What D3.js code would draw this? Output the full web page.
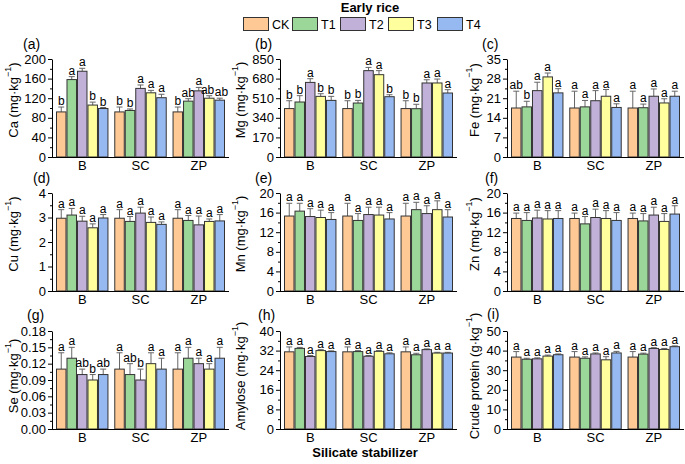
<!DOCTYPE html>
<html>
<head>
<meta charset="utf-8">
<script src="https://cdn.jsdelivr.net/npm/d3@7"></script>
<style>
  html, body { margin: 0; padding: 0; background: #fff; }
  svg { display: block; font-family: "Liberation Sans", Arial, sans-serif; }
</style>
</head>
<body>
<svg id="chart" width="685" height="464"></svg>
<script>
// ---------- data ----------
const groups = ["B", "SC", "ZP"];
const treatments = ["CK", "T1", "T2", "T3", "T4"];
const colors = ["#FFC995", "#9CD79A", "#C1B1D8", "#FFFF9E", "#96B9F2"];

const caMean = [[92, 158, 175, 106, 99], [92, 95, 140, 131, 121], [92, 114, 135, 120, 116]];
const caErr = [[10, 6, 6, 6, 2], [10, 3, 7, 5, 7], [10, 5, 7, 5, 4]];
const caLet = [["b", "a", "a", "b", "b"], ["b", "b", "a", "a", "a"], ["b", "ab", "a", "ab", "ab"]];
const caTicks = [0, 40, 80, 120, 160, 200];

const mgMean = [[420, 477, 647, 526, 491], [420, 468, 749, 714, 523], [420, 419, 642, 642, 555]];
const mgErr = [[68, 55, 32, 23, 35], [68, 23, 28, 35, 17], [68, 38, 28, 34, 29]];
const mgLet = [["b", "b", "a", "b", "b"], ["b", "b", "a", "a", "b"], ["b", "b", "a", "a", "a"]];
const mgTicks = [0, 170, 340, 510, 680, 850];

const feMean = [[17.5, 17.9, 23.7, 28.6, 22.9], [17.5, 17.9, 20.1, 21.7, 17.7], [17.5, 17.6, 21.7, 19.3, 21.7]];
const feErr = [[6, 2, 3, 1.4, 1.5], [6, 2.3, 3.6, 2.4, 1.3], [6, 1.3, 2.6, 1.5, 1.8]];
const feLet = [["ab", "b", "a", "a", "a"], ["a", "a", "a", "a", "a"], ["a", "a", "a", "a", "a"]];
const feTicks = [0, 7, 14, 21, 28, 35];

const cuMean = [[2.97, 3.1, 2.85, 2.58, 2.98], [2.97, 2.84, 3.18, 2.8, 2.72], [2.97, 2.88, 2.7, 2.84, 2.86]];
const cuErr = [[0.35, 0.27, 0.2, 0.16, 0.14], [0.35, 0.2, 0.24, 0.22, 0.1], [0.35, 0.2, 0.36, 0.1, 0.26]];
const cuLet = [["a", "a", "a", "a", "a"], ["a", "a", "a", "a", "a"], ["a", "a", "a", "a", "a"]];
const cuTicks = [0, 1, 2, 3, 4];

const mnMean = [[15.3, 16.3, 15.2, 15.0, 14.6], [15.3, 14.4, 15.6, 15.5, 14.7], [15.3, 16.6, 15.8, 16.6, 15.1]];
const mnErr = [[2.6, 1.6, 1.6, 1.5, 1.4], [2.6, 1.4, 1.5, 1.6, 1.3], [2.6, 1.5, 1.6, 1.8, 1.5]];
const mnLet = [["a", "a", "a", "a", "a"], ["a", "a", "a", "a", "a"], ["a", "a", "a", "a", "a"]];
const mnTicks = [0, 4, 8, 12, 16, 20];

const znMean = [[14.8, 14.4, 14.9, 14.7, 14.8], [14.8, 13.7, 15.0, 14.8, 14.4], [14.8, 14.3, 15.5, 14.2, 15.7]];
const znErr = [[1.1, 1.6, 1.6, 1.7, 1.6], [1.1, 1.5, 1.7, 1.6, 1.6], [1.1, 1.5, 1.6, 1.6, 1.7]];
const znLet = [["a", "a", "a", "a", "a"], ["a", "a", "a", "a", "a"], ["a", "a", "a", "a", "a"]];
const znTicks = [0, 4, 8, 12, 16, 20];

const seMean = [[0.11, 0.13, 0.10, 0.09, 0.10], [0.11, 0.10, 0.09, 0.12, 0.11], [0.11, 0.13, 0.12, 0.11, 0.13]];
const seErr = [[0.03, 0.02, 0.01, 0.01, 0.01], [0.03, 0.02, 0.02, 0.02, 0.02], [0.03, 0.02, 0.01, 0.01, 0.02]];
const seLet = [["a", "a", "ab", "b", "ab"], ["a", "ab", "b", "a", "a"], ["a", "a", "a", "a", "a"]];
const seTicks = [0, 0.03, 0.06, 0.09, 0.12, 0.15, 0.18];

const amMean = [[31.5, 32.9, 29.6, 32.0, 31.6], [31.5, 31.6, 29.7, 31.7, 30.7], [31.5, 30.3, 32.4, 31.0, 31.0]];
const amErr = [[2, 0.4, 0.4, 0.4, 0.3], [2, 0.4, 0.3, 0.3, 0.4], [2, 0.6, 0.3, 0.3, 0.3]];
const amLet = [["a", "a", "a", "a", "a"], ["a", "a", "a", "a", "a"], ["a", "a", "a", "a", "a"]];
const amTicks = [0, 8, 16, 24, 32, 40];

const cpMean = [[36.7, 35.6, 35.8, 37.2, 37.9], [36.7, 36.1, 38.3, 35.3, 38.8], [36.7, 38.2, 41.1, 40.6, 42.0]];
const cpErr = [[2.8, 0.5, 0.5, 0.5, 0.4], [2.8, 0.7, 0.5, 1.6, 0.8], [2.8, 0.5, 0.4, 0.5, 0.4]];
const cpLet = [["a", "a", "a", "a", "a"], ["a", "a", "a", "a", "a"], ["a", "a", "a", "a", "a"]];
const cpTicks = [0, 10, 20, 30, 40, 50];

const panelTags = ["(a)", "(b)", "(c)", "(d)", "(e)", "(f)", "(g)", "(h)", "(i)"];
const yNames = ["Ca", "Mg", "Fe", "Cu", "Mn", "Zn", "Se", "Amylose", "Crude protein"];
const yUnits = ["mg·kg", "mg·kg", "mg·kg", "mg·kg", "mg·kg", "mg·kg", "mg·kg", "mg·kg", "g·kg"];
const titleText = "Early rice";
const xTitle = "Silicate stabilizer";

// ---------- layout ----------
const panels = [
  {mean: caMean, err: caErr, let: caLet, ticks: caTicks, fmt: d3.format("d")},
  {mean: mgMean, err: mgErr, let: mgLet, ticks: mgTicks, fmt: d3.format("d")},
  {mean: feMean, err: feErr, let: feLet, ticks: feTicks, fmt: d3.format("d")},
  {mean: cuMean, err: cuErr, let: cuLet, ticks: cuTicks, fmt: d3.format("d")},
  {mean: mnMean, err: mnErr, let: mnLet, ticks: mnTicks, fmt: d3.format("d")},
  {mean: znMean, err: znErr, let: znLet, ticks: znTicks, fmt: d3.format("d")},
  {mean: seMean, err: seErr, let: seLet, ticks: seTicks, fmt: d3.format(".2f")},
  {mean: amMean, err: amErr, let: amLet, ticks: amTicks, fmt: d3.format("d")},
  {mean: cpMean, err: cpErr, let: cpLet, ticks: cpTicks, fmt: d3.format("d")}
];

const colX = [52, 280, 507];
const rowY = [59, 193, 331];
const pw = 177, ph = 98;
const titleX = [13, 240, 474];
const tagPos = [[23, 49], [255, 49], [482, 49], [33, 183], [255, 183], [485, 183], [27, 320], [258, 320], [487, 319]];

const svg = d3.select("#chart");
const FONT = 13;

// title + legend
svg.append("text").attr("x", 370).attr("y", 12).attr("text-anchor", "middle")
  .attr("font-size", 13).attr("font-weight", "bold").text(titleText);

const legX = [243, 292, 340, 388, 437];
const leg = svg.append("g");
treatments.forEach((t, i) => {
  leg.append("rect").attr("x", legX[i] + 0.5).attr("y", 17.5).attr("width", 25).attr("height", 13)
    .attr("fill", colors[i]).attr("stroke", "#333").attr("stroke-width", 1);
  leg.append("text").attr("x", legX[i] + 29).attr("y", 29).attr("font-size", 12.5).text(t);
});

panels.forEach((p, idx) => {
  const c = idx % 3, r = Math.floor(idx / 3);
  const x0 = colX[c], y0 = rowY[r];
  const g = svg.append("g").attr("transform", `translate(${x0},${y0})`);
  const ymax = p.ticks[p.ticks.length - 1];
  const y = d3.scaleLinear().domain([0, ymax]).range([ph, 0]);
  const xg = d3.scaleBand().domain(groups).range([4, pw - 4]).paddingInner(0.1);
  const xt = d3.scaleBand().domain(treatments).range([0, xg.bandwidth()]).padding(0);

  groups.forEach((gr, gi) => {
    const gg = g.append("g").attr("transform", `translate(${xg(gr)},0)`);
    let prev = null;
    treatments.forEach((t, ti) => {
      const v = p.mean[gi][ti], e = p.err[gi][ti];
      const bx = xt(t), bw = xt.bandwidth();
      const cx = bx + bw / 2;
      gg.append("line").attr("x1", cx).attr("x2", cx).attr("y1", y(v)).attr("y2", y(v + e))
        .attr("stroke", "#666").attr("stroke-width", 1);
      gg.append("line").attr("x1", cx - 3).attr("x2", cx + 3).attr("y1", y(v + e)).attr("y2", y(v + e))
        .attr("stroke", "#666").attr("stroke-width", 1);
      gg.append("rect").attr("x", bx + 0.5).attr("y", y(v)).attr("width", bw - 1).attr("height", y(0) - y(v))
        .attr("fill", colors[ti]).attr("stroke", "#333").attr("stroke-width", 1);
      const ly = y(v + e) - 2;
      const lt = gg.append("text").attr("x", cx).attr("y", ly).attr("text-anchor", "middle")
        .attr("font-size", 12).text(p.let[gi][ti]);
      const w = lt.node().getComputedTextLength();
      const cur = {node: lt, x: cx, y: ly, w: w};
      // nudge apart neighbouring labels that would collide
      if (prev && Math.abs(prev.y - ly) < 10) {
        const gap = (cx - w / 2) - (prev.x + prev.w / 2);
        if (gap < 0.5) {
          const s = (0.5 - gap) / 2;
          prev.x -= s; prev.node.attr("x", prev.x);
          cur.x += s; lt.attr("x", cur.x);
        }
      }
      prev = cur;
    });
  });

  // y axis with minor ticks
  const minor = [];
  for (let i = 0; i < p.ticks.length - 1; i++) minor.push((p.ticks[i] + p.ticks[i + 1]) / 2);
  const ym = g.append("g").call(d3.axisLeft(y).tickValues(minor).tickSize(2).tickFormat(""));
  ym.select(".domain").remove();
  ym.selectAll("line").attr("stroke", "#000");
  const ya = g.append("g").call(d3.axisLeft(y).tickValues(p.ticks).tickSize(4).tickSizeOuter(0).tickPadding(2).tickFormat(p.fmt));
  ya.select(".domain").attr("stroke", "#000");
  ya.selectAll("line").attr("stroke", "#000");
  ya.selectAll("text").attr("font-size", FONT).attr("font-family", "Liberation Sans, Arial, sans-serif").attr("fill", "#000");

  // x axis
  const xa = g.append("g").attr("transform", `translate(0,${ph})`)
    .call(d3.axisBottom(xg).tickSize(0).tickSizeOuter(0).tickPadding(4));
  xa.select(".domain").attr("stroke", "#000").attr("d", `M0,0.5H${pw}`);
  xa.selectAll("text").attr("font-size", FONT).attr("font-family", "Liberation Sans, Arial, sans-serif").attr("fill", "#000");

  // y title
  const ty = y0 + ph / 2 - (r === 2 ? 4 : 8);
  const tt = svg.append("text").attr("transform", `translate(${titleX[c]},${ty}) rotate(-90)`)
    .attr("text-anchor", "middle").attr("dominant-baseline", "central").attr("font-size", FONT);
  tt.append("tspan").text(yNames[idx] + " (" + yUnits[idx]);
  tt.append("tspan").attr("font-size", 9).attr("dy", -5).text("−1");
  tt.append("tspan").attr("dy", 5).text(")");

  svg.append("text").attr("x", tagPos[idx][0]).attr("y", tagPos[idx][1]).attr("font-size", 14).text(panelTags[idx]);
});

svg.append("text").attr("x", 365).attr("y", 457).attr("text-anchor", "middle")
  .attr("font-size", 13).attr("font-weight", "bold").text(xTitle);
</script>
</body>
</html>
